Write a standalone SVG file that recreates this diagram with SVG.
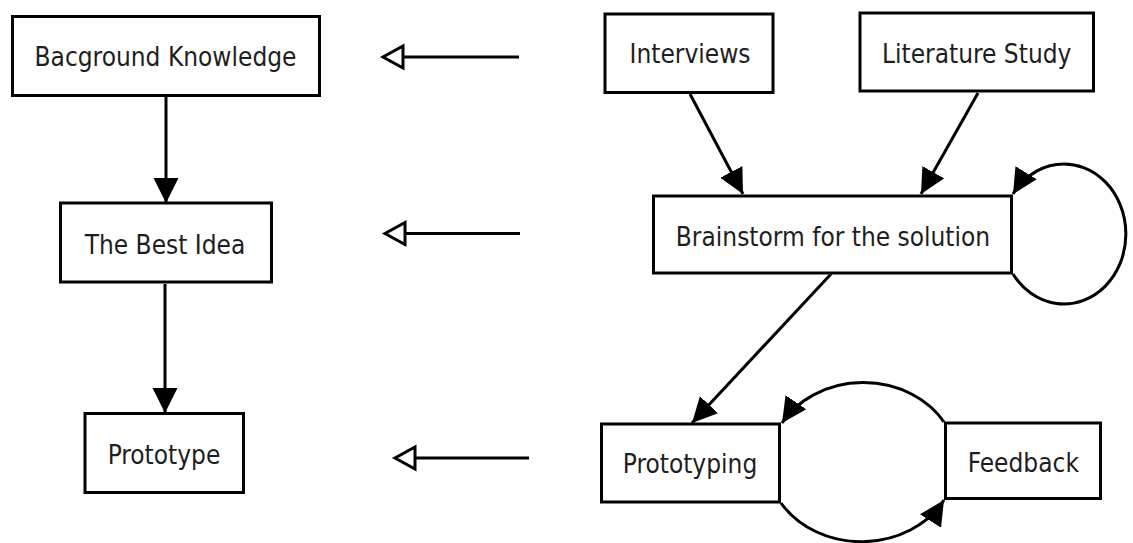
<svg xmlns="http://www.w3.org/2000/svg" width="1133" height="543" viewBox="0 0 1133 543">
  <style>
    .box { fill: #ffffff; stroke: #000000; stroke-width: 3; }
    .label { font-family: "DejaVu Sans Condensed", "DejaVu Sans", "Liberation Sans", sans-serif; font-stretch: condensed; font-size: 26px; fill: #1e1e1e; text-anchor: middle; }
    .edge { fill: none; stroke: #000000; stroke-width: 3; }
    .solid { marker-end: url(#arrowFilled); }
    .open { marker-end: url(#arrowOpen); }
  </style>
  <defs>
    <marker id="arrowFilled" markerUnits="userSpaceOnUse" viewBox="0 -13 26 26" markerWidth="26" markerHeight="26" refX="25" refY="0" orient="auto">
      <path d="M0,-12.5 L25,0 L0,12.5 z" fill="#000000"/>
    </marker>
    <marker id="arrowOpen" markerUnits="userSpaceOnUse" viewBox="-3 -15 28 30" markerWidth="28" markerHeight="30" refX="20" refY="0" orient="auto">
      <path d="M0,-11 L20,0 L0,11 z" fill="#ffffff" stroke="#000000" stroke-width="3"/>
    </marker>
  </defs>

  <rect width="1133" height="543" fill="#ffffff"/>

  <!-- connectors -->
  <g id="connectors">
    <line class="edge solid" x1="166" y1="97" x2="166" y2="203"/>
    <line class="edge solid" x1="165" y1="284" x2="165" y2="413"/>
    <line class="edge solid" x1="690" y1="94" x2="743" y2="194"/>
    <line class="edge solid" x1="978" y1="93" x2="921" y2="194"/>
    <line class="edge solid" x1="831" y1="274" x2="692" y2="423"/>
    <path class="edge solid" d="M1013,274 A 62 70 0 1 0 1013,194"/>
    <path class="edge solid" d="M944,422 A 94 81 0 0 0 782,423"/>
    <path class="edge solid" d="M781,503 A 94 80 0 0 0 944,500"/>
    <line class="edge open" x1="519" y1="57" x2="383" y2="57"/>
    <line class="edge open" x1="520" y1="233.5" x2="385" y2="233.5"/>
    <line class="edge open" x1="529" y1="458" x2="395" y2="458"/>
  </g>

  <g id="background-knowledge">
    <rect class="box" x="12.5" y="16.5" width="307" height="79"/>
    <text class="label" x="165.5" y="65.7">Bacground Knowledge</text>
  </g>
  <g id="best-idea">
    <rect class="box" x="60.5" y="203" width="211" height="79"/>
    <text class="label" x="165" y="254">The Best Idea</text>
  </g>
  <g id="prototype">
    <rect class="box" x="85" y="413.5" width="158.5" height="79"/>
    <text class="label" x="164" y="464">Prototype</text>
  </g>
  <g id="interviews">
    <rect class="box" x="605" y="14" width="168" height="78.5"/>
    <text class="label" x="690" y="63.3">Interviews</text>
  </g>
  <g id="literature-study">
    <rect class="box" x="860" y="13" width="233.5" height="78"/>
    <text class="label" x="976.7" y="62.7">Literature Study</text>
  </g>
  <g id="brainstorm">
    <rect class="box" x="653.5" y="196" width="358" height="77"/>
    <text class="label" x="833" y="245.7">Brainstorm for the solution</text>
  </g>
  <g id="prototyping">
    <rect class="box" x="601.5" y="424" width="178" height="78"/>
    <text class="label" x="690" y="473.3">Prototyping</text>
  </g>
  <g id="feedback">
    <rect class="box" x="945.5" y="423" width="155" height="75.5"/>
    <text class="label" x="1023.3" y="471.7">Feedback</text>
  </g>
</svg>
